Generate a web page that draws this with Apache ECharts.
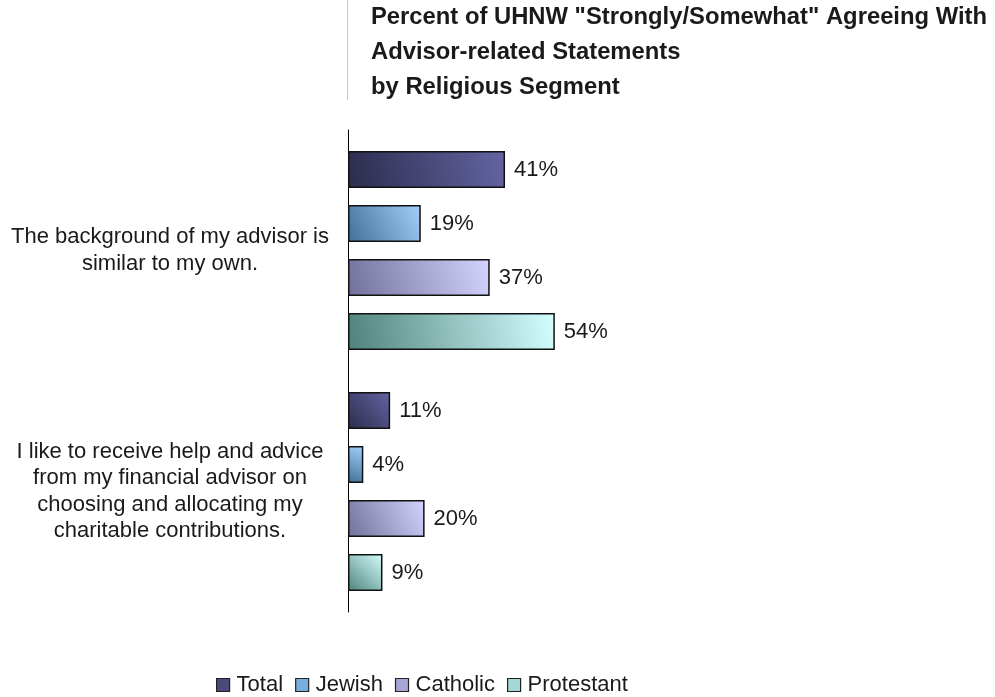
<!DOCTYPE html>
<html>
<head>
<meta charset="utf-8">
<script src="https://cdn.jsdelivr.net/npm/echarts@6/dist/echarts.min.js"></script>
<style>
  html, body { margin: 0; padding: 0; background: #ffffff; }
  #chart { width: 995px; height: 697px; }
</style>
</head>
<body>
<div id="chart"></div>
<script>
// Statements (categories on the vertical axis)
const statements = [
  'The background of my advisor is\nsimilar to my own.',
  'I like to receive help and advice\nfrom my financial advisor on\nchoosing and allocating my\ncharitable contributions.'
];

// Religious segments and their values (percent agreeing)
const segments = ['Total', 'Jewish', 'Catholic', 'Protestant'];
const totalValues = [41, 11];
const jewishValues = [19, 4];
const catholicValues = [37, 20];
const protestantValues = [54, 9];

const titleLines = [
  'Percent of UHNW "Strongly/Somewhat" Agreeing With',
  'Advisor-related Statements',
  'by Religious Segment'
];

// Diagonal gradient per segment: darker lower-left, lighter upper-right
const palette = [
  ['#2c2c4c', '#6464a4'],
  ['#3f6f96', '#a4d0fb'],
  ['#70709a', '#d4d4ff'],
  ['#4f827c', '#d4ffff']
];
// Swatch colours for the legend
const swatches = ['#4a4a7a', '#78aedc', '#a6a6d6', '#a4d8d4'];

function grad(pair) {
  return new echarts.graphic.LinearGradient(0, 1, 1, 0, [
    { offset: 0, color: pair[0] },
    { offset: 1, color: pair[1] }
  ]);
}

const valueSets = [totalValues, jewishValues, catholicValues, protestantValues];

const chart = echarts.init(document.getElementById('chart'), null, { renderer: 'canvas' });

const font = 'Liberation Sans, Arial, sans-serif';

chart.setOption({
  animation: false,
  backgroundColor: '#ffffff',
  title: {
    text: titleLines.join('\n'),
    left: 371,
    top: 0,
    padding: 0,
    textStyle: {
      fontFamily: font,
      fontSize: 23.8,
      fontWeight: 'bold',
      color: '#1a1a1a',
      lineHeight: 35
    }
  },
  graphic: [
    {
      type: 'line',
      shape: { x1: 347.5, y1: 0, x2: 347.5, y2: 100 },
      style: { stroke: '#c8c8c8', lineWidth: 1 }
    }
  ],
  legend: {
    data: segments.map((s, i) => ({
      name: s,
      icon: 'rect',
      itemStyle: { color: swatches[i], borderColor: '#222', borderWidth: 1.2 }
    })),
    top: 674,
    left: 216,
    padding: 0,
    itemWidth: 13,
    itemHeight: 13,
    itemGap: 12,
    textStyle: { fontFamily: font, fontSize: 22, color: '#1a1a1a', padding: [0, 0, 0, 2] }
  },
  grid: {
    left: 348,
    top: 130,
    width: 383,
    height: 482,
    containLabel: false
  },
  xAxis: {
    type: 'value',
    min: 0,
    max: 100,
    show: false
  },
  yAxis: {
    type: 'category',
    data: statements,
    inverse: true,
    axisLine: { show: true, lineStyle: { color: '#000', width: 1 } },
    axisTick: { show: false },
    axisLabel: {
      margin: 178,
      align: 'center',
      padding: [0, 0, 8, 0],
      fontFamily: font,
      fontSize: 22,
      color: '#1a1a1a',
      lineHeight: 26.5
    }
  },
  series: segments.map((name, i) => ({
    name: name,
    type: 'bar',
    data: valueSets[i],
    barWidth: 37,
    barGap: '46%',
    itemStyle: {
      color: grad(palette[i]),
      borderColor: '#111',
      borderWidth: 1.5
    },
    label: {
      show: true,
      position: 'right',
      distance: 9,
      formatter: '{c}%',
      fontFamily: font,
      fontSize: 22,
      color: '#1a1a1a'
    }
  }))
});
</script>
</body>
</html>
